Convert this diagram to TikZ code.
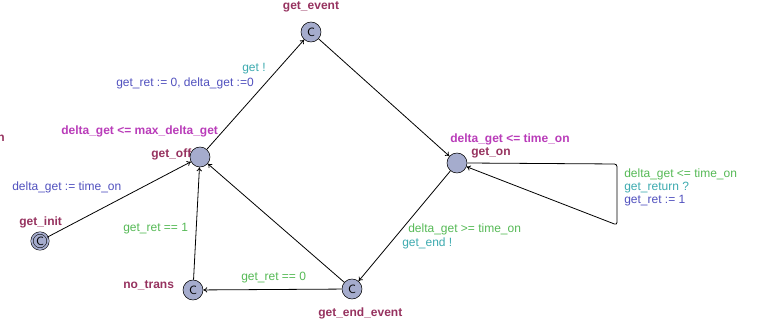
\documentclass[tikz,border=0pt]{standalone}
\usepackage{fontspec}
\setmainfont{Liberation Sans}
\usetikzlibrary{arrows.meta}

\definecolor{locname}{RGB}{150,50,95}
\definecolor{invcol}{RGB}{185,60,185}
\definecolor{guardcol}{RGB}{85,185,85}
\definecolor{synccol}{RGB}{60,170,175}
\definecolor{assigncol}{RGB}{80,80,190}
\definecolor{locfill}{RGB}{165,172,205}

\tikzset{
  loc/.style={circle,draw,fill=locfill,minimum size=15pt,inner sep=0pt},
  committed/.style={loc,font=\fontsize{9}{10}\selectfont\sffamily},
  initloc/.style={committed,minimum size=12pt,double=locfill,double distance=1.4pt},
  trans/.style={-{To[length=3pt,width=4pt]},semithick},
  lab/.style={anchor=west,inner sep=0pt,font=\fontsize{9}{10}\selectfont},
  locnm/.style={lab,text=locname,font=\fontsize{9}{10}\selectfont\bfseries},
  inv/.style={lab,text=invcol,font=\fontsize{9}{10}\selectfont\bfseries},
  guard/.style={lab,text=guardcol},
  sync/.style={lab,text=synccol},
  assign/.style={lab,text=assigncol}
}

\begin{document}
\begin{tikzpicture}[x=0.75pt,y=-0.75pt]
 \useasboundingbox (0,0) rectangle (763,324);
 % locations
 \node[committed] (get_event) at (311,32) {C};
 \node[loc] (get_off) at (200,157) {};
 \node[loc] (get_on) at (457,163) {};
 \node[initloc] (get_init) at (40,241) {C};
 \node[committed] (no_trans) at (193,290) {C};
 \node[committed] (get_end_event) at (352,289) {C};
 \coordinate (loop_a) at (617,164);
 \coordinate (loop_b) at (617,225);

 % location names and invariants
 \node[locnm,anchor=center] (n_event) at (311,7) {get\_event};
 \node[locnm] (n_off) at (151,154) {get\_off};
 \node[inv] (i_off) at (61,131) {delta\_get <= max\_delta\_get};
 \node[locnm] (n_on) at (471,153) {get\_on};
 \node[inv] (i_on) at (450,139) {delta\_get <= time\_on};
 \node[locnm] (n_init) at (19,222) {get\_init};
 \node[locnm] (n_trans) at (123,285) {no\_trans};
 \node[locnm] (n_end) at (318,313) {get\_end\_event};
 \node[locnm] (n_cut) at (-3,138) {n};

 % transitions
 \draw[trans] (get_init) -- (get_off);
 \draw[trans] (get_off) -- (get_event);
 \draw[trans] (get_event) -- (get_on);
 \draw[trans] (get_on) -- (get_end_event);
 \draw[trans] (get_end_event) -- (no_trans);
 \draw[trans] (no_trans) -- (get_off);
 \draw[trans] (get_end_event) -- (get_off);
 \draw[trans,rounded corners=2pt] (get_on.east) -- (loop_a) -- (loop_b) -- (get_on);

 % transition labels
 \node[assign] (a_init) at (12,187) {delta\_get := time\_on};
 \node[sync] (s_get) at (242,69) {get !};
 \node[assign] (a_get) at (116,83) {get\_ret := 0, delta\_get :=0};
 \node[guard] (g_ret1) at (123,229) {get\_ret == 1};
 \node[guard] (g_ret0) at (241,278) {get\_ret == 0};
 \node[guard] (g_end) at (408,229) {delta\_get >= time\_on};
 \node[sync] (s_end) at (402,243) {get\_end !};
 \node[guard] (g_loop) at (624,174) {delta\_get <= time\_on};
 \node[sync] (s_loop) at (624,188) {get\_return ?};
 \node[assign] (a_loop) at (624,201) {get\_ret := 1};
\end{tikzpicture}
\end{document}
